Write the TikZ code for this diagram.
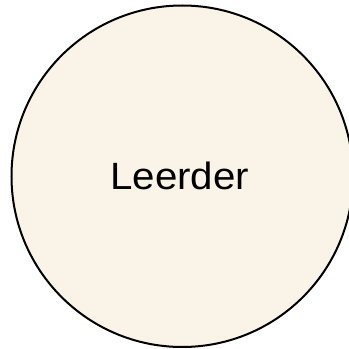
\documentclass[tikz,border=0pt]{standalone}
\usepackage{fontspec}
\setmainfont{Liberation Sans}
\definecolor{cream}{RGB}{250,243,231}
\begin{document}
\begin{tikzpicture}[x=1pt,y=1pt,
  bubble/.style={circle, draw=black, line width=2pt, fill=cream, minimum size=341.5pt, inner sep=0pt,
    font=\fontsize{38}{45}\selectfont}]
\useasboundingbox (0,0) rectangle (349,349);
\node[bubble] (leerder) at (182.25,172.75) {\hspace*{-5pt}\scalebox{1.06}[1]{Leerder}};
\end{tikzpicture}
\end{document}
